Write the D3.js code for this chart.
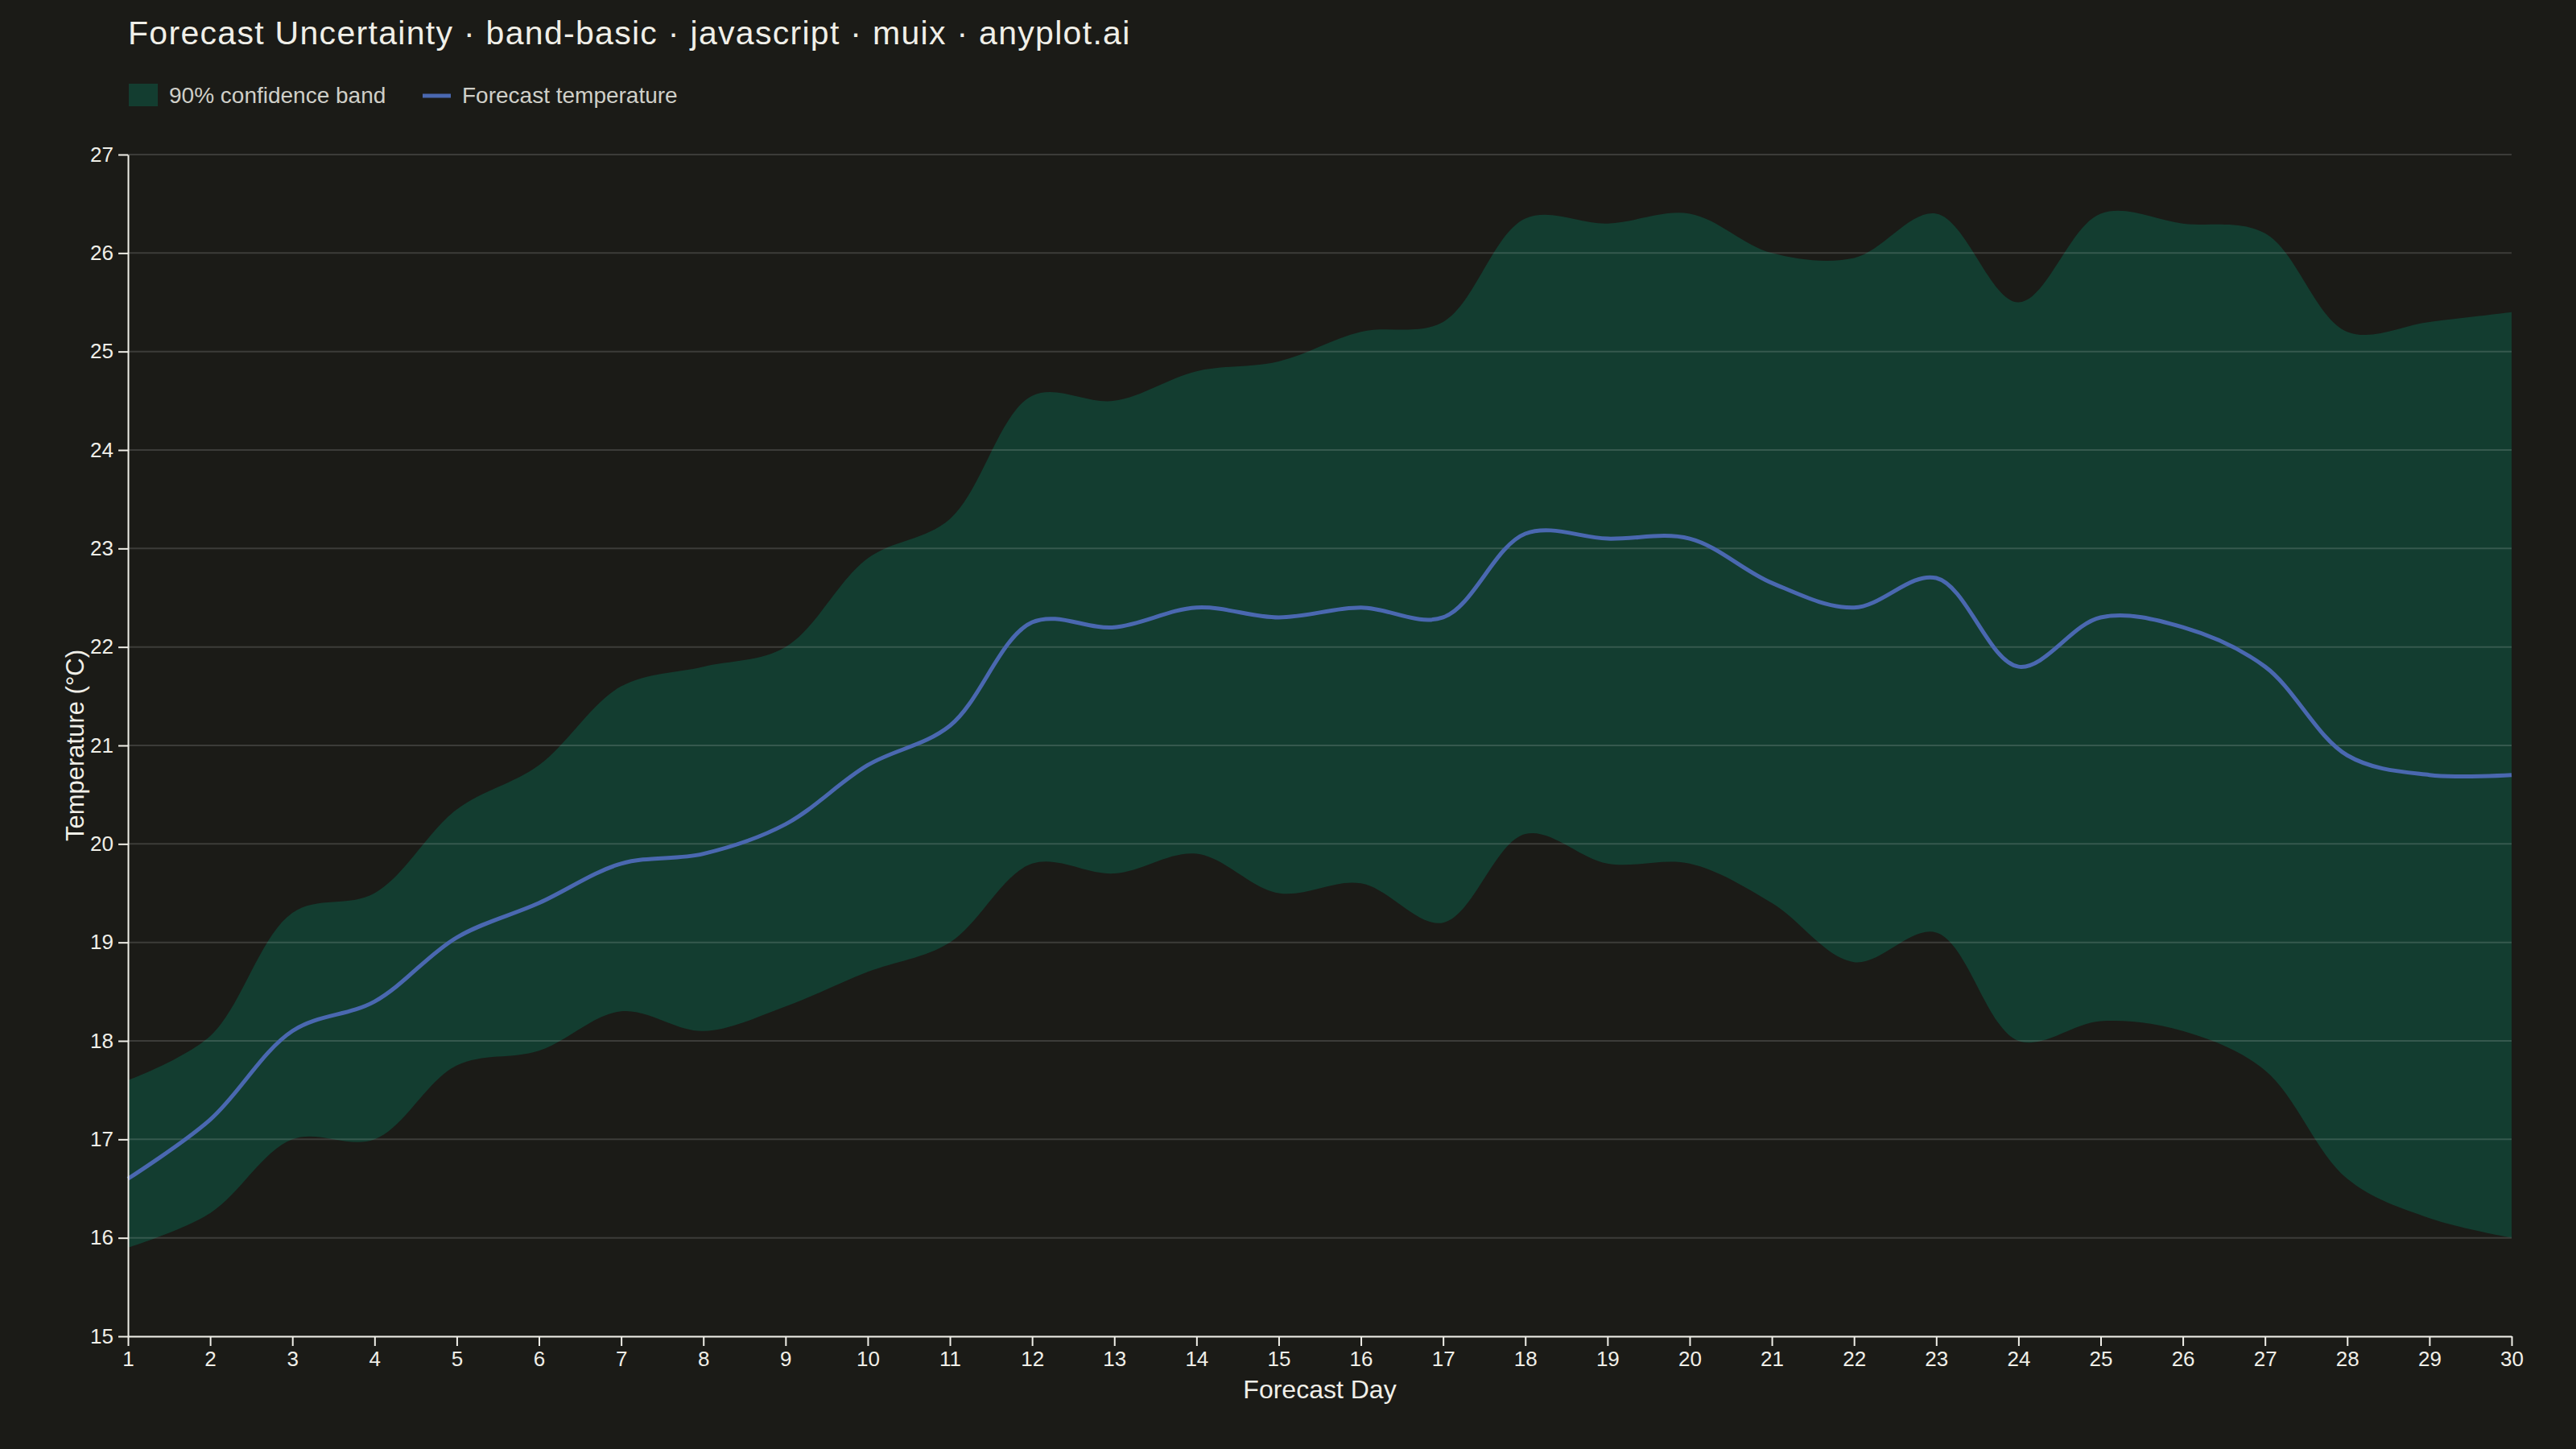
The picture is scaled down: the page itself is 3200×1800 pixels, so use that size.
<!DOCTYPE html>
<style>
  body { margin: 0; background: #1b1b17; }
  svg { display: block; font-family: "Liberation Sans", Arial, sans-serif; }
</style>
<body>
</body>
<script src="https://cdn.jsdelivr.net/npm/d3@7"></script>
<script>
  const days = [1, 2, 3, 4, 5, 6, 7, 8, 9, 10, 11, 12, 13, 14, 15,
                16, 17, 18, 19, 20, 21, 22, 23, 24, 25, 26, 27, 28, 29, 30];
  const forecast = [16.6, 17.2, 18.1, 18.4, 19.05, 19.4, 19.8, 19.9, 20.2, 20.8,
                    21.2, 22.25, 22.2, 22.4, 22.3, 22.4, 22.3, 23.15, 23.1, 23.1,
                    22.65, 22.4, 22.7, 21.8, 22.3, 22.2, 21.8, 20.9, 20.7, 20.7];
  const upper = [17.6, 18.05, 19.3, 19.5, 20.35, 20.8, 21.6, 21.8, 22.0, 22.9,
                 23.3, 24.55, 24.5, 24.8, 24.9, 25.2, 25.3, 26.35, 26.3, 26.4,
                 26.0, 25.95, 26.4, 25.5, 26.4, 26.3, 26.2, 25.2, 25.3, 25.4];
  const lower = [15.9, 16.25, 17.0, 17.0, 17.75, 17.9, 18.3, 18.1, 18.35, 18.7,
                 19.0, 19.8, 19.7, 19.9, 19.5, 19.6, 19.2, 20.1, 19.8, 19.8,
                 19.4, 18.8, 19.1, 18.0, 18.2, 18.1, 17.7, 16.6, 16.2, 16.0];
  const yTicks = [15, 16, 17, 18, 19, 20, 21, 22, 23, 24, 25, 26, 27];

  const title = 'Forecast Uncertainty · band-basic · javascript · muix · anyplot.ai';
  const bandLabel = '90% confidence band';
  const lineLabel = 'Forecast temperature';

  const w = 3200, h = 1800;
  const margin = {l: 159, r: 80, t: 192, b: 140};
  const l = margin.l, r = w - margin.r, t = margin.t, b = h - margin.b;

  const ink = '#f0efe8';
  const bandColor = '#133d30';
  const lineColor = '#4a68b0';

  const rows = days.map((d, i) => ({day: d, mean: forecast[i], lo: lower[i], hi: upper[i]}));

  const svg = d3.select('body').append('svg')
    .attr('width', w)
    .attr('height', h);

  svg.append('rect')
    .attr('width', w).attr('height', h)
    .attr('fill', '#1b1b17');

  const x = d3.scaleLinear().domain([1, 30]).range([l, r]);
  const y = d3.scaleLinear().domain([15, 27]).range([b, t]);

  const curve = d3.curveCatmullRom;

  svg.append('path')
    .datum(rows)
    .attr('fill', bandColor)
    .attr('d', d3.area().curve(curve)
      .x(d => x(d.day)).y0(d => y(d.lo)).y1(d => y(d.hi)));

  // gridlines sit on top of the band, faint
  svg.append('g')
    .selectAll('line')
    .data(yTicks)
    .join('line')
      .attr('x1', l).attr('x2', r)
      .attr('y1', d => y(d)).attr('y2', d => y(d))
      .attr('stroke', '#ffffff')
      .attr('stroke-opacity', 0.15)
      .attr('stroke-width', 2);

  svg.append('path')
    .datum(rows)
    .attr('fill', 'none')
    .attr('stroke', lineColor)
    .attr('stroke-width', 5)
    .attr('d', d3.line().curve(curve).x(d => x(d.day)).y(d => y(d.mean)));

  function styleAxis(g) {
    g.select('.domain').attr('stroke', ink).attr('stroke-width', 2);
    g.selectAll('.tick line').attr('stroke', ink).attr('stroke-width', 2);
    g.selectAll('.tick text')
      .attr('fill', ink)
      .style('font-size', '26px')
      .style('font-family', '"Liberation Sans", Arial, sans-serif');
  }

  svg.append('g')
    .attr('transform', `translate(0, ${b})`)
    .call(d3.axisBottom(x).tickValues(days).tickFormat(d3.format('d'))
      .tickSize(12).tickPadding(7).tickSizeOuter(0))
    .call(styleAxis);

  svg.append('g')
    .attr('transform', `translate(${l}, 0)`)
    .call(d3.axisLeft(y).tickValues(yTicks).tickFormat(d3.format('d'))
      .tickSize(12).tickPadding(6).tickSizeOuter(0))
    .call(styleAxis);

  svg.append('text')
    .attr('x', (l + r) / 2)
    .attr('y', 1737)
    .attr('text-anchor', 'middle')
    .attr('fill', ink)
    .style('font-size', '32px')
    .text('Forecast Day');

  svg.append('text')
    .attr('transform', `translate(104, ${(t + b) / 2}) rotate(-90)`)
    .attr('text-anchor', 'middle')
    .attr('fill', ink)
    .style('font-size', '31px')
    .text('Temperature (°C)');

  svg.append('text')
    .attr('x', l)
    .attr('y', 55)
    .attr('fill', ink)
    .style('font-size', '41px')
    .style('letter-spacing', '1.3px')
    .text(title);

  const legend = svg.append('g').attr('transform', 'translate(160, 118)');
  legend.append('rect')
    .attr('x', 0).attr('y', -14)
    .attr('width', 36).attr('height', 28)
    .attr('fill', bandColor);
  legend.append('text')
    .attr('x', 50).attr('y', 10)
    .attr('fill', '#cfcfc8')
    .style('font-size', '28px')
    .text(bandLabel);
  legend.append('line')
    .attr('x1', 365).attr('x2', 400)
    .attr('y1', 1).attr('y2', 1)
    .attr('stroke', lineColor)
    .attr('stroke-width', 5);
  legend.append('text')
    .attr('x', 414).attr('y', 10)
    .attr('fill', '#cfcfc8')
    .style('font-size', '28px')
    .text(lineLabel);
</script>
